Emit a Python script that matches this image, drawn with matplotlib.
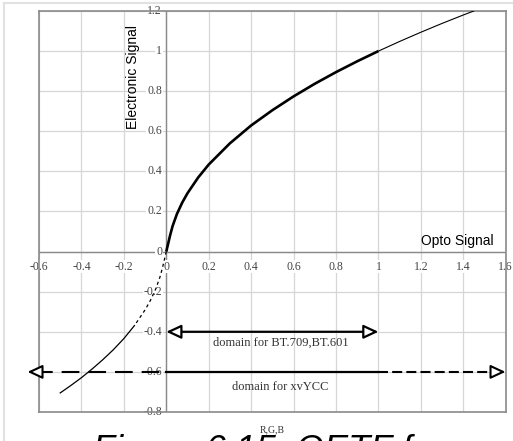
import matplotlib
matplotlib.use('Agg')
import matplotlib.pyplot as plt
from matplotlib.patches import FancyArrowPatch
from matplotlib.lines import Line2D
import numpy as np

# OETF curve (opto signal -> electronic signal)
pos_x = [0, 0.005, 0.01, 0.018, 0.03, 0.05, 0.075, 0.1, 0.15, 0.2, 0.3, 0.4, 0.5,
         0.6, 0.7, 0.8, 0.9, 1.0]
pos_y = [0, 0.0225, 0.045, 0.081, 0.128, 0.187, 0.244, 0.291, 0.369, 0.434, 0.540,
         0.629, 0.705, 0.774, 0.837, 0.895, 0.949, 1.0]
ext_x = [1.0, 1.1, 1.2, 1.3, 1.4, 1.45]
ext_y = [1.0, 1.048, 1.094, 1.138, 1.180, 1.200]
neg_dot_x = [0, -0.01, -0.018, -0.03, -0.05, -0.075, -0.1, -0.15]
neg_dot_y = [0, -0.045, -0.081, -0.128, -0.187, -0.244, -0.291, -0.369]
neg_x = [-0.15, -0.2, -0.25, -0.3, -0.35, -0.4, -0.45, -0.5]
neg_y = [-0.369, -0.434, -0.490, -0.540, -0.586, -0.629, -0.668, -0.705]

x_ticks = [-0.6, -0.4, -0.2, 0, 0.2, 0.4, 0.6, 0.8, 1, 1.2, 1.4, 1.6]
x_labels = ['-0.6', '-0.4', '-0.2', '0', '0.2', '0.4', '0.6', '0.8', '1', '1.2', '1.4', '1.6']
y_ticks = [-0.8, -0.6, -0.4, -0.2, 0, 0.2, 0.4, 0.6, 0.8, 1, 1.2]
y_labels = ['-0.8', '-0.6', '-0.4', '-0.2', '0', '0.2', '0.4', '0.6', '0.8', '1', '1.2']

# domains
bt_domain = [0, 1]            # BT.709 / BT.601, at y = -0.4
bt_level = -0.4
xv_core = [0, 1]              # xvYCC solid part, at y = -0.6
xv_extent = [-0.667, 1.612]   # xvYCC dashed extension
xv_level = -0.6

fig = plt.figure(figsize=(5.13, 4.41), dpi=100)
ax = fig.add_axes([0.076, 0.0658, 0.9098, 0.9093])
ax.set_xlim(-0.6, 1.6)
ax.set_ylim(-0.8, 1.2)
ax.set_xticks(x_ticks)
ax.set_yticks(y_ticks)
ax.tick_params(length=0, labelbottom=False, labelleft=False)
ax.grid(True, color='#d6d6d6', lw=0.9)
ax.set_axisbelow(True)
for s in ax.spines.values():
    s.set_color('#8a8a8a')
    s.set_linewidth(1.2)
ax.axhline(0, color='#8a8a8a', lw=1, zorder=1)
ax.axvline(0, color='#8a8a8a', lw=1, zorder=1)

lab = dict(family='Liberation Serif', fontsize=8.5, color='#444444')
box = dict(facecolor='white', edgecolor='none', pad=0.6)
for t, s in zip(x_ticks, x_labels):
    ax.text(t, -0.075, s, ha='center', va='center', bbox=box, zorder=2, clip_on=False, **lab)
for t, s in zip(y_ticks, y_labels):
    ax.text(-0.02, t, s, ha='right', va='center', bbox=box, zorder=2, clip_on=False, **lab)

# curve
ax.plot(pos_x, pos_y, color='black', lw=1.9, zorder=4, solid_capstyle='butt')
ax.plot(ext_x, ext_y, color='black', lw=0.8, zorder=4)
ax.plot(neg_dot_x, neg_dot_y, color='black', lw=0.9, ls=(0, (2.5, 2.5)), zorder=4)
ax.plot(neg_x, neg_y, color='black', lw=0.9, zorder=4)

# arrows
def head(tip, direction, y):
    a = FancyArrowPatch((tip, y), (tip + direction * 0.06, y), arrowstyle='<|-,head_length=9,head_width=4.2',
                        mutation_scale=1, lw=1.5, color='black', fc='white', clip_on=False, zorder=5)
    ax.add_patch(a)

arr = FancyArrowPatch((bt_domain[0], bt_level), (bt_domain[1], bt_level),
                      arrowstyle='<|-|>,head_length=9,head_width=4.2', mutation_scale=1,
                      lw=1.6, color='black', fc='white', shrinkA=0, shrinkB=0, zorder=5)
ax.add_patch(arr)

ax.plot(xv_core, [xv_level, xv_level], color='black', lw=1.6, zorder=4)
ax.plot([xv_extent[0] + 0.05, xv_core[0]], [xv_level, xv_level], color='black', lw=1.5,
        ls=(0, (8.5, 4.3)), clip_on=False, zorder=4)
ax.plot([xv_core[1], xv_extent[1] - 0.05], [xv_level, xv_level], color='black', lw=1.5,
        ls=(0, (4.8, 2)), clip_on=False, zorder=4)
head(xv_extent[0], 1, xv_level)
head(xv_extent[1], -1, xv_level)

dom = dict(family='Liberation Serif', fontsize=9, color='#333333', ha='center', va='center')
ax.text(0.54, -0.456, 'domain for BT.709,BT.601', **dom)
ax.text(0.537, -0.675, 'domain for xvYCC', **dom)

ax.text(-0.157, 0.871, 'Electronic Signal', rotation=90, ha='center', va='center',
        family='Liberation Sans', fontsize=10, color='black')
ax.text(1.371, 0.053, 'Opto Signal', ha='center', va='center',
        family='Liberation Sans', fontsize=10, color='black')

# page border + caption
fig.add_artist(Line2D([4 / 513, 1], [438 / 441, 438 / 441], color='#e2e2e2', lw=1.5))
fig.add_artist(Line2D([4 / 513, 4 / 513], [0, 438 / 441], color='#e2e2e2', lw=1.5))
fig.text(93 / 513, -20 / 441, 'Figure 6.15: OETF f', family='Liberation Sans', style='italic',
         fontsize=26, va='baseline', ha='left')
fig.text(272 / 513, 11 / 441, 'R,G,B', family='Liberation Serif', fontsize=7, ha='center', va='center',
         color='#333333')

plt.savefig('out.png', dpi=100)
